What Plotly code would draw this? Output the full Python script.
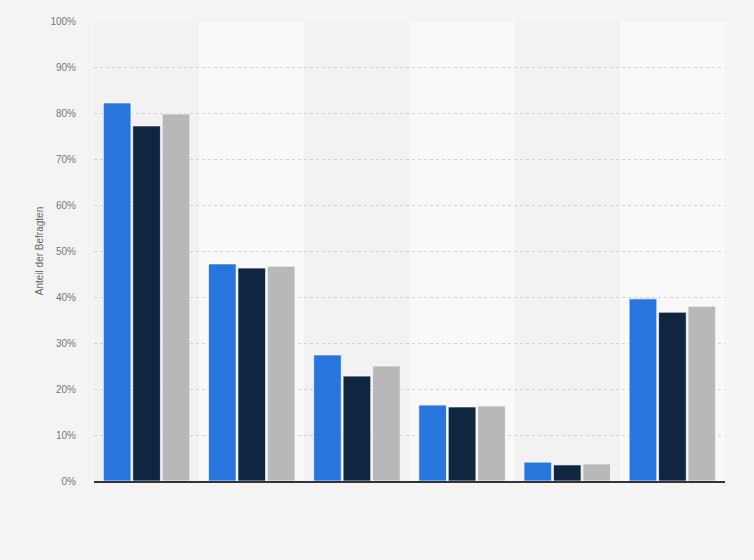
import plotly.graph_objects as go

categories = ["Kategorie 1", "Kategorie 2", "Kategorie 3", "Kategorie 4", "Kategorie 5", "Kategorie 6"]
series_names = ["Serie 1", "Serie 2", "Serie 3"]
serie_1 = [82.2, 47.2, 27.4, 16.5, 4.1, 39.6]
serie_2 = [77.2, 46.3, 22.8, 16.1, 3.5, 36.7]
serie_3 = [79.8, 46.7, 25.0, 16.3, 3.7, 38.0]
y_ticks = [0, 10, 20, 30, 40, 50, 60, 70, 80, 90, 100]
y_ticklabels = [f"{v}%" for v in y_ticks]

colors = ["#2876dd", "#0f2540", "#b8b8b8"]

fig = go.Figure()
for name, vals, col in zip(series_names, [serie_1, serie_2, serie_3], colors):
    fig.add_trace(go.Bar(
        x=categories, y=vals, name=name,
        marker=dict(color=col, line=dict(color="rgba(255,255,255,0.7)", width=1)),
        hovertemplate="%{y:.1f}%<extra>" + name + "</extra>",
    ))

# alternating background bands per category
shapes = []
for i, c in enumerate(categories):
    shapes.append(dict(
        type="rect", xref="x", yref="y", layer="below",
        x0=i - 0.5, x1=i + 0.5, y0=0, y1=100,
        fillcolor="#f2f2f2" if i % 2 == 0 else "#f9f9f9",
        line=dict(width=0),
    ))

fig.update_layout(
    width=754, height=560,
    margin=dict(l=94, r=29, t=21, b=79),
    paper_bgcolor="#f4f4f4",
    plot_bgcolor="rgba(0,0,0,0)",
    barmode="group",
    bargap=0.16,
    bargroupgap=0.06,
    showlegend=False,
    shapes=shapes,
    font=dict(family="Liberation Sans, Arial, sans-serif", color="#666666"),
)
fig.update_xaxes(
    showticklabels=False, showgrid=False, zeroline=False,
    showline=True, linecolor="#333333", linewidth=1.5,
    range=[-0.5, len(categories) - 0.5],
)
fig.update_yaxes(
    range=[0, 100], tickvals=y_ticks, ticktext=y_ticklabels,
    tickfont=dict(size=10, color="#777777"),
    showgrid=True, gridcolor="#d0d0d0", griddash="dot", gridwidth=0.8,
    zeroline=False, ticks="outside", ticklen=15, tickcolor="rgba(0,0,0,0)",
    title=dict(text="Anteil der Befragten", font=dict(size=10, color="#666666"), standoff=4),
)

fig.write_html("out.html", config={"displayModeBar": False},
               post_script="document.body.style.margin='0';")
